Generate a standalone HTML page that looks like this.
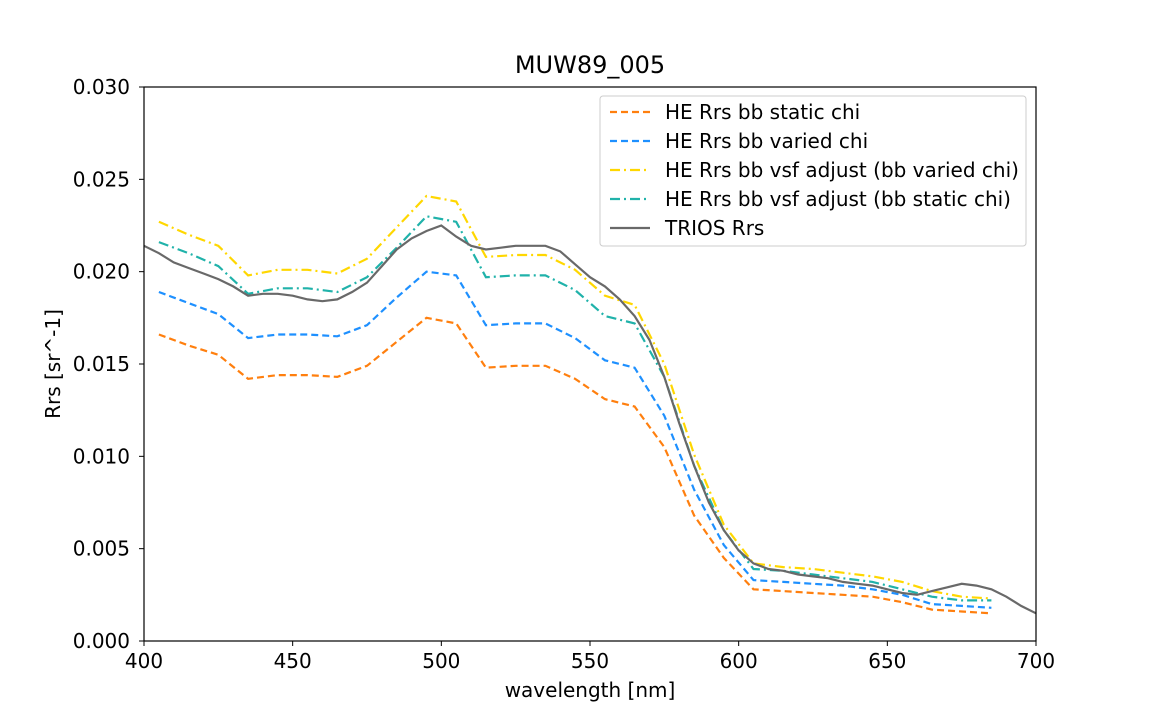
<!DOCTYPE html>
<html><head><meta charset="utf-8"><style>
body{margin:0;background:#fff}
svg text{font-family:"DejaVu Sans","Liberation Sans",sans-serif}
</style></head><body>
<svg id="chart" width="1152" height="720" xmlns="http://www.w3.org/2000/svg"></svg>
<script>
const heWl=[405,415,425,435,445,455,465,475,485,495,505,515,525,535,545,555,565,575,585,595,605,615,625,635,645,655,665,675,685];
const staticChi=[0.0166,0.0160,0.0155,0.0142,0.0144,0.0144,0.0143,0.0149,0.0162,0.0175,0.0172,0.0148,0.0149,0.0149,0.0142,0.0131,0.0127,0.0105,0.0068,0.0045,0.0028,0.0027,0.0026,0.0025,0.0024,0.0021,0.0017,0.0016,0.0015];
const variedChi=[0.0189,0.0183,0.0177,0.0164,0.0166,0.0166,0.0165,0.0171,0.0186,0.0200,0.0198,0.0171,0.0172,0.0172,0.0164,0.0152,0.0148,0.0122,0.0082,0.0052,0.0033,0.0032,0.0031,0.0030,0.0028,0.0025,0.0020,0.0019,0.0018];
const vsfVaried=[0.0227,0.0220,0.0214,0.0198,0.0201,0.0201,0.0199,0.0207,0.0224,0.0241,0.0238,0.0208,0.0209,0.0209,0.0201,0.0187,0.0182,0.0150,0.0101,0.0063,0.0042,0.0040,0.0039,0.0037,0.0035,0.0032,0.0027,0.0024,0.0023];
const vsfStatic=[0.0216,0.0210,0.0203,0.0188,0.0191,0.0191,0.0189,0.0197,0.0213,0.0230,0.0227,0.0197,0.0198,0.0198,0.0190,0.0176,0.0172,0.0143,0.0095,0.0060,0.0039,0.0038,0.0036,0.0034,0.0032,0.0028,0.0024,0.0022,0.0022];
const triosWl=[400,405,410,415,420,425,430,435,440,445,450,455,460,465,470,475,480,485,490,495,500,505,510,515,520,525,530,535,540,545,550,555,560,565,570,575,580,585,590,595,600,605,610,615,620,625,630,635,640,645,650,655,660,665,670,675,680,685,690,695,700];
const trios=[0.0214,0.0210,0.0205,0.0202,0.0199,0.0196,0.0192,0.0187,0.0188,0.0188,0.0187,0.0185,0.0184,0.0185,0.0189,0.0194,0.0203,0.0212,0.0218,0.0222,0.0225,0.0219,0.0214,0.0212,0.0213,0.0214,0.0214,0.0214,0.0211,0.0204,0.0197,0.0192,0.0185,0.0176,0.0163,0.0143,0.0118,0.0095,0.0075,0.0060,0.0049,0.0042,0.0039,0.0038,0.0036,0.0035,0.0034,0.0032,0.0031,0.0030,0.0028,0.0026,0.0025,0.0027,0.0029,0.0031,0.0030,0.0028,0.0024,0.0019,0.0015];
const xTicks=[400,450,500,550,600,650,700];
const yTicks=[0,0.005,0.010,0.015,0.020,0.025,0.030];
const yTickLabels=["0.000","0.005","0.010","0.015","0.020","0.025","0.030"];
const legendLabels=["HE Rrs bb static chi","HE Rrs bb varied chi","HE Rrs bb vsf adjust (bb varied chi)","HE Rrs bb vsf adjust (bb static chi)","TRIOS Rrs"];

const L=144,R=1036,T=87,B=641;
const X=v=>L+(v-400)/300*(R-L);
const Y=v=>B-v/0.03*(B-T);
const svg=document.getElementById('chart');
const NS='http://www.w3.org/2000/svg';
function mk(tag,attrs,parent){const e=document.createElementNS(NS,tag);for(const k in attrs)e.setAttribute(k,attrs[k]);(parent||svg).appendChild(e);return e;}
const FS='20px';

const t=mk('text',{x:590,y:73,'text-anchor':'middle',style:'font-size:24px',fill:'#000'});t.textContent='MUW89_005';



const series=[
 {wl:heWl,v:staticChi,c:'#ff7f0e',d:'7,4',name:'series-he-static-chi'},
 {wl:heWl,v:variedChi,c:'#1e90ff',d:'7,4',name:'series-he-varied-chi'},
 {wl:heWl,v:vsfVaried,c:'#ffd700',d:'10,4,2,4',name:'series-vsf-varied-chi'},
 {wl:heWl,v:vsfStatic,c:'#20b2aa',d:'10,4,2,4',name:'series-vsf-static-chi'},
 {wl:triosWl,v:trios,c:'#696969',d:'',name:'series-trios'}];
const cp=mk('clipPath',{id:'clip'});mk('rect',{x:L,y:T,width:R-L,height:B-T},cp);
const g=mk('g',{'clip-path':'url(#clip)'});
series.forEach(s=>{
 const p=mk('polyline',{points:s.wl.map((w,i)=>X(w).toFixed(1)+','+Y(s.v[i]).toFixed(1)).join(' '),fill:'none',stroke:s.c,'stroke-width':2.2,'stroke-dasharray':s.d},g);
 
 
});

const ax=mk('rect',{x:L,y:T,width:R-L,height:B-T,fill:'none',stroke:'#000','stroke-width':1.2});


xTicks.forEach(v=>{
 mk('line',{x1:X(v),x2:X(v),y1:B,y2:B+5,stroke:'#000'});
 const tl=mk('text',{x:X(v),y:B+27,'text-anchor':'middle',style:'font-size:'+FS});tl.textContent=v;
 
 
});
yTicks.forEach((v,i)=>{
 mk('line',{x1:L-5,x2:L,y1:Y(v),y2:Y(v),stroke:'#000'});
 const tl=mk('text',{x:L-14,y:Y(v)+7,'text-anchor':'end',style:'font-size:'+FS});tl.textContent=yTickLabels[i];
 
 
});
const xt=mk('text',{x:590,y:697,'text-anchor':'middle',style:'font-size:'+FS});xt.textContent='wavelength [nm]';


const yt=mk('text',{x:60,y:364,'text-anchor':'middle',style:'font-size:'+FS,transform:'rotate(-90 60 364)'});yt.textContent='Rrs [sr^-1]';



const lg=mk('g',{});


mk('rect',{x:600,y:96,width:426,height:150,rx:3,fill:'#fff','fill-opacity':0.85,stroke:'#ccc'},lg);
legendLabels.forEach((lab,i)=>{
 const y=112+i*29;
 mk('line',{x1:610,x2:650,y1:y,y2:y,stroke:series[i].c,'stroke-width':2.2,'stroke-dasharray':series[i].d},lg);
 const tx=mk('text',{x:665,y:y+7,style:'font-size:'+FS},lg);tx.textContent=lab;
 
 
});
</script>
</body></html>
